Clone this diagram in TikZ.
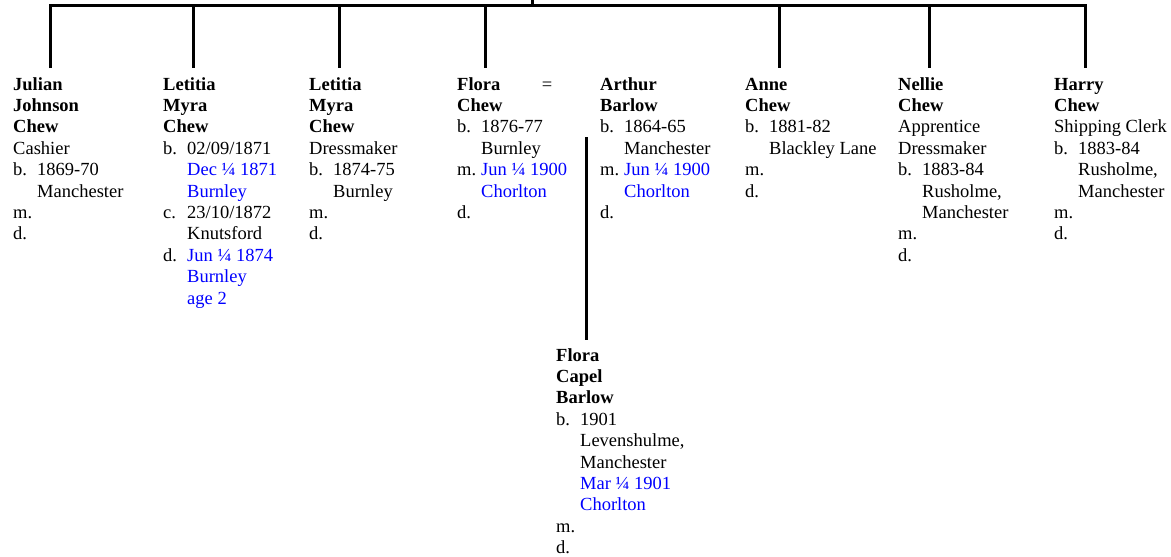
\documentclass[tikz,border=0pt]{standalone}
\usepackage{fontspec}
\setmainfont{Liberation Serif}
\definecolor{lnkblue}{RGB}{0,0,255}
\newcommand\tg[1]{\makebox[24pt][l]{#1}}
\newcommand\ind{\hspace*{24pt}}
\newcommand\bl[1]{\textcolor{lnkblue}{#1}}
\newcommand\pbox[1]{\parbox[t]{150pt}{#1}}
\begin{document}
\begin{tikzpicture}[x=1pt,y=-1pt,
  ln/.style={line width=3pt, line join=miter},
  person/.style={anchor=base west, inner sep=0pt, font=\fontsize{18.5}{21.4}\selectfont}]
\useasboundingbox (0,0) rectangle (1171,557);

% persons
\node[person] (julian) at (13,90) {\pbox{\textbf{Julian}\\\textbf{Johnson}\\\textbf{Chew}\\Cashier\\\tg{b.}1869-70\\\ind Manchester\\m.\\d.}};
\node[person] (letitia1) at (163,90) {\pbox{\textbf{Letitia}\\\textbf{Myra}\\\textbf{Chew}\\\tg{b.}02/09/1871\\\ind\bl{Dec ¼ 1871}\\\ind\bl{Burnley}\\\tg{c.}23/10/1872\\\ind Knutsford\\\tg{d.}\bl{Jun ¼ 1874}\\\ind\bl{Burnley}\\\ind\bl{age 2}}};
\node[person] (letitia2) at (309,90) {\pbox{\textbf{Letitia}\\\textbf{Myra}\\\textbf{Chew}\\Dressmaker\\\tg{b.}1874-75\\\ind Burnley\\m.\\d.}};
\node[person] (flora) at (457,90) {\pbox{\textbf{Flora}\\\textbf{Chew}\\\tg{b.}1876-77\\\ind Burnley\\\tg{m.}\bl{Jun ¼ 1900}\\\ind\bl{Chorlton}\\d.}};
\node[person, anchor=base] (eq) at (547,90) {=};
\node[person] (arthur) at (600,90) {\pbox{\textbf{Arthur}\\\textbf{Barlow}\\\tg{b.}1864-65\\\ind Manchester\\\tg{m.}\bl{Jun ¼ 1900}\\\ind\bl{Chorlton}\\d.}};
\node[person] (anne) at (745,90) {\pbox{\textbf{Anne}\\\textbf{Chew}\\\tg{b.}1881-82\\\ind Blackley Lane\\m.\\d.}};
\node[person] (nellie) at (898,90) {\pbox{\textbf{Nellie}\\\textbf{Chew}\\Apprentice\\Dressmaker\\\tg{b.}1883-84\\\ind Rusholme,\\\ind Manchester\\m.\\d.}};
\node[person] (harry) at (1054,90) {\pbox{\textbf{Harry}\\\textbf{Chew}\\Shipping Clerk\\\tg{b.}1883-84\\\ind Rusholme,\\\ind Manchester\\m.\\d.}};
\node[person] (floracapel) at (556,361) {\pbox{\textbf{Flora}\\\textbf{Capel}\\\textbf{Barlow}\\\tg{b.}1901\\\ind Levenshulme,\\\ind Manchester\\\ind\bl{Mar ¼ 1901}\\\ind\bl{Chorlton}\\m.\\d.}};

% connector points
\coordinate (parent) at (532,0);
\coordinate (pbar) at (532,5);
\coordinate (c1) at (50,5);   \coordinate (d1) at (50,68);
\coordinate (c2) at (193,5);  \coordinate (d2) at (193,68);
\coordinate (c3) at (339,5);  \coordinate (d3) at (339,68);
\coordinate (c4) at (485,5);  \coordinate (d4) at (485,68);
\coordinate (c5) at (779,5);  \coordinate (d5) at (779,68);
\coordinate (c6) at (929,5);  \coordinate (d6) at (929,68);
\coordinate (c7) at (1085,5); \coordinate (d7) at (1085,68);
\coordinate (mar) at (586,137);
\coordinate (kid) at (586,340);

\draw[ln] (d1) -- (c1) -- (c7) -- (d7);
\draw[ln] (parent) -- (pbar);
\draw[ln] (c2) -- (d2);
\draw[ln] (c3) -- (d3);
\draw[ln] (c4) -- (d4);
\draw[ln] (c5) -- (d5);
\draw[ln] (c6) -- (d6);
\draw[ln] (mar) -- (kid);
\end{tikzpicture}
\end{document}
